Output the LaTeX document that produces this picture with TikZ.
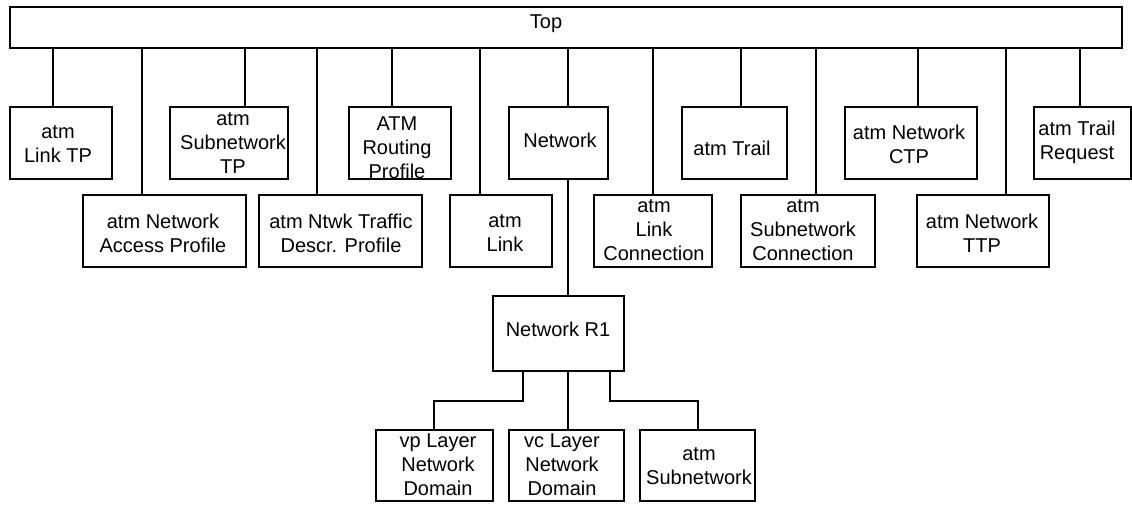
\documentclass[tikz,border=0pt]{standalone}
\usepackage{fontspec}
\setmainfont{Liberation Sans}
\begin{document}
\begin{tikzpicture}[x=1pt,y=-1pt,
  box/.style={draw, line width=2.2pt, inner sep=0pt},
  lbl/.style={align=center, inner sep=0pt, font=\fontsize{20}{24}\selectfont},
  wire/.style={line width=2.2pt}]
\useasboundingbox (0,0) rectangle (1132,504);
% box from corner (x1,y1) to corner (x2,y2)
\newcommand\classbox[5]{\node[box, minimum width={(#4-#2)*1pt}, minimum height={(#5-#3)*1pt}] (#1) at ({(#2+#4)/2},{(#3+#5)/2}) {};}
\classbox{top}{10}{7}{1122}{48}
\classbox{lnktp}{10}{107}{112}{179}
\classbox{sntp}{170}{107}{288}{179}
\classbox{rtp}{349}{107}{451}{179}
\classbox{net}{509}{107}{608}{179}
\classbox{trail}{682}{107}{787}{179}
\classbox{ctp}{845}{107}{977}{179}
\classbox{req}{1034}{107}{1131}{179}
\classbox{anp}{83}{195}{246}{267}
\classbox{ntd}{259}{195}{422}{267}
\classbox{link}{450}{195}{552}{267}
\classbox{lc}{594}{195}{712}{267}
\classbox{snc}{741}{195}{875}{267}
\classbox{ttp}{917}{195}{1049}{267}
\classbox{r1}{493}{296}{624}{371}
\classbox{vp}{376}{430}{493}{501}
\classbox{vc}{509}{430}{624}{501}
\classbox{sub}{640}{430}{755}{501}
% texts
\node[lbl] at (546,24) {Top};
\node[lbl] at (58,144) {atm\\Link TP};
\node[lbl] at (233,143) {atm\\Subnetwork\\TP};
\node[lbl] at (397,148) {ATM\\Routing\\Profile};
\node[lbl] at (560,140) {Network};
\node[lbl] at (732,148) {atm Trail};
\node[lbl] at (909,144) {atm Network\\CTP};
\node[lbl] at (1077,142) {atm Trail\\Request};
\node[lbl] at (163,233) {atm Network\\Access Profile};
\node[lbl] at (341,233) {atm Ntwk Traffic\\Descr. Profile};
\node[lbl] at (505,233) {atm\\Link};
\node[lbl] at (654,230) {atm\\Link\\Connection};
\node[lbl] at (803,230) {atm\\Subnetwork\\Connection};
\node[lbl] at (982,233) {atm Network\\TTP};
\node[lbl] at (558,329) {Network R1};
\node[lbl] at (438,465) {vp Layer\\Network\\Domain};
\node[lbl] at (562,465) {vc Layer\\Network\\Domain};
\node[lbl] at (699,466) {atm\\Subnetwork};
% drop points of the connectors
\coordinate (c1) at (53,0);
\coordinate (c2) at (142,0);
\coordinate (c3) at (245,0);
\coordinate (c4) at (317,0);
\coordinate (c5) at (392,0);
\coordinate (c6) at (480,0);
\coordinate (c7) at (568,0);
\coordinate (c8) at (653,0);
\coordinate (c9) at (741,0);
\coordinate (c10) at (816,0);
\coordinate (c11) at (918,0);
\coordinate (c12) at (1006,0);
\coordinate (c13) at (1080,0);
\coordinate (d1) at (523,401);
\coordinate (d2) at (434,401);
\coordinate (d3) at (610,401);
\coordinate (d4) at (698,401);
% connectors from Top
\draw[wire] (top.south -| c1) -- (lnktp.north -| c1);
\draw[wire] (top.south -| c2) -- (anp.north -| c2);
\draw[wire] (top.south -| c3) -- (sntp.north -| c3);
\draw[wire] (top.south -| c4) -- (ntd.north -| c4);
\draw[wire] (top.south -| c5) -- (rtp.north -| c5);
\draw[wire] (top.south -| c6) -- (link.north -| c6);
\draw[wire] (top.south -| c7) -- (net.north -| c7);
\draw[wire] (top.south -| c8) -- (lc.north -| c8);
\draw[wire] (top.south -| c9) -- (trail.north -| c9);
\draw[wire] (top.south -| c10) -- (snc.north -| c10);
\draw[wire] (top.south -| c11) -- (ctp.north -| c11);
\draw[wire] (top.south -| c12) -- (ttp.north -| c12);
\draw[wire] (top.south -| c13) -- (req.north -| c13);
% Network subtree
\draw[wire] (net.south -| c7) -- (r1.north -| c7);
\draw[wire] (r1.south -| d1) -- (d1) -- (d2) -- (vp.north -| d2);
\draw[wire] (r1.south -| c7) -- (vc.north -| c7);
\draw[wire] (r1.south -| d3) -- (d3) -- (d4) -- (sub.north -| d4);
\end{tikzpicture}
\end{document}
